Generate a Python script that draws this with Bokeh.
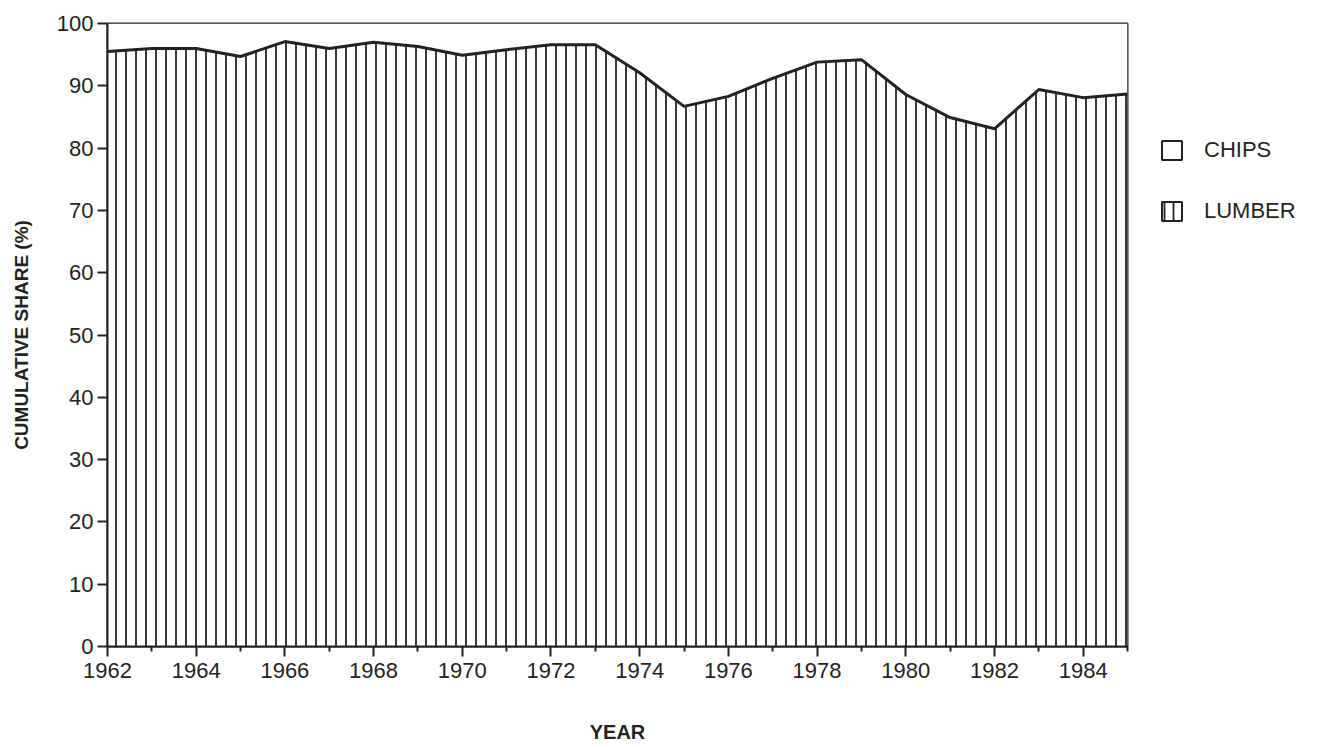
from bokeh.plotting import figure
from bokeh.layouts import row
from bokeh.models import Range1d, FixedTicker, Legend, LegendItem, ColumnDataSource
from bokeh.embed import file_html
from bokeh.resources import INLINE

years = [1962, 1963, 1964, 1965, 1966, 1967, 1968, 1969, 1970, 1971, 1972, 1973,
         1974, 1975, 1976, 1977, 1978, 1979, 1980, 1981, 1982, 1983, 1984, 1985]
lumber = [95.5, 96.0, 96.0, 94.7, 97.1, 96.0, 97.0, 96.3, 94.9, 95.8, 96.6, 96.6,
          92.1, 86.7, 88.3, 91.2, 93.8, 94.2, 88.6, 84.9, 83.1, 89.4, 88.1, 88.7]
chips_total = [100.0] * len(years)  # cumulative top (chips fill the rest)
x_major = [1962, 1964, 1966, 1968, 1970, 1972, 1974, 1976, 1978, 1980, 1982, 1984]
x_minor = [1963, 1965, 1967, 1969, 1971, 1973, 1975, 1977, 1979, 1981, 1983, 1985]
y_ticks = [0, 10, 20, 30, 40, 50, 60, 70, 80, 90, 100]

INK = "#1f2420"
FONT = "Liberation Sans"

src = ColumnDataSource(dict(year=years, lumber=lumber, top=chips_total,
                            zero=[0] * len(years)))

p = figure(width=1135, height=745, output_backend="svg", toolbar_location=None,
           x_range=Range1d(1962, 1985), y_range=Range1d(0, 100),
           min_border_left=107, min_border_right=8, min_border_top=23,
           min_border_bottom=99)
p.background_fill_color = "white"
p.border_fill_color = "white"
p.outline_line_color = INK
p.outline_line_width = 2
p.xgrid.visible = False
p.ygrid.visible = False

# chips (white) band between lumber and 100
p.varea(x="year", y1="lumber", y2="top", source=src, fill_color="white")
# lumber hatched area
p.varea(x="year", y1="zero", y2="lumber", source=src, fill_color="white",
        hatch_pattern="|", hatch_scale=10, hatch_weight=1.8, hatch_color=INK)
p.line(x="year", y="lumber", source=src, line_color=INK, line_width=3)

# x axis
xa = p.xaxis[0]
xa.ticker = FixedTicker(ticks=x_major, minor_ticks=x_minor)
xa.axis_line_color = INK
xa.axis_line_width = 2
xa.major_tick_line_color = INK
xa.major_tick_line_width = 2
xa.major_tick_out = 10
xa.major_tick_in = 0
xa.minor_tick_line_color = INK
xa.minor_tick_line_width = 2
xa.minor_tick_out = 5
xa.minor_tick_in = 0
xa.major_label_text_font = FONT
xa.major_label_text_font_size = "22px"
xa.major_label_text_color = INK
xa.major_label_standoff = 6
xa.axis_label = "YEAR"
xa.axis_label_text_font = FONT
xa.axis_label_text_font_style = "bold"
xa.axis_label_text_font_size = "20px"
xa.axis_label_text_color = INK
xa.axis_label_standoff = 40

# y axis
ya = p.yaxis[0]
ya.ticker = FixedTicker(ticks=y_ticks, minor_ticks=[])
ya.axis_line_color = INK
ya.axis_line_width = 2
ya.major_tick_line_color = INK
ya.major_tick_line_width = 2
ya.major_tick_out = 10
ya.major_tick_in = 0
ya.minor_tick_line_color = None
ya.major_label_text_font = FONT
ya.major_label_text_font_size = "22px"
ya.major_label_text_color = INK
ya.major_label_standoff = 4
ya.axis_label = "CUMULATIVE SHARE (%)"
ya.axis_label_text_font = FONT
ya.axis_label_text_font_style = "bold"
ya.axis_label_text_font_size = "19px"
ya.axis_label_text_color = INK
ya.axis_label_standoff = 22

# legend panel (separate figure on the right)
lg = figure(width=165, height=745, output_backend="svg", toolbar_location=None,
            x_axis_type=None, y_axis_type=None,
            x_range=Range1d(1962, 1985), y_range=Range1d(0, 100),
            min_border_left=0, min_border_right=0, min_border_top=0,
            min_border_bottom=0)
lg.outline_line_color = None
lg.xgrid.visible = False
lg.ygrid.visible = False
r_chips = lg.rect(x="year", y="top", width=1, height=1, source=src,
                  fill_color="white", line_color=INK, line_width=2, visible=False)
r_lumber = lg.rect(x="year", y="lumber", width=1, height=1, source=src,
                   fill_color="white", line_color=INK, line_width=2,
                   hatch_pattern="|", hatch_scale=9, hatch_weight=1.8,
                   hatch_color=INK, visible=False)
legend = Legend(items=[LegendItem(label="CHIPS", renderers=[r_chips]),
                       LegendItem(label="LUMBER", renderers=[r_lumber])],
                location=(24, 422), glyph_width=25, glyph_height=24,
                spacing=35, label_standoff=20, padding=10, margin=0,
                label_text_font=FONT, label_text_font_size="22px",
                label_text_color=INK, border_line_color=None,
                background_fill_alpha=0, inactive_fill_alpha=0)
lg.add_layout(legend, "center")

open("out.html", "w").write(file_html(row(p, lg), INLINE))
